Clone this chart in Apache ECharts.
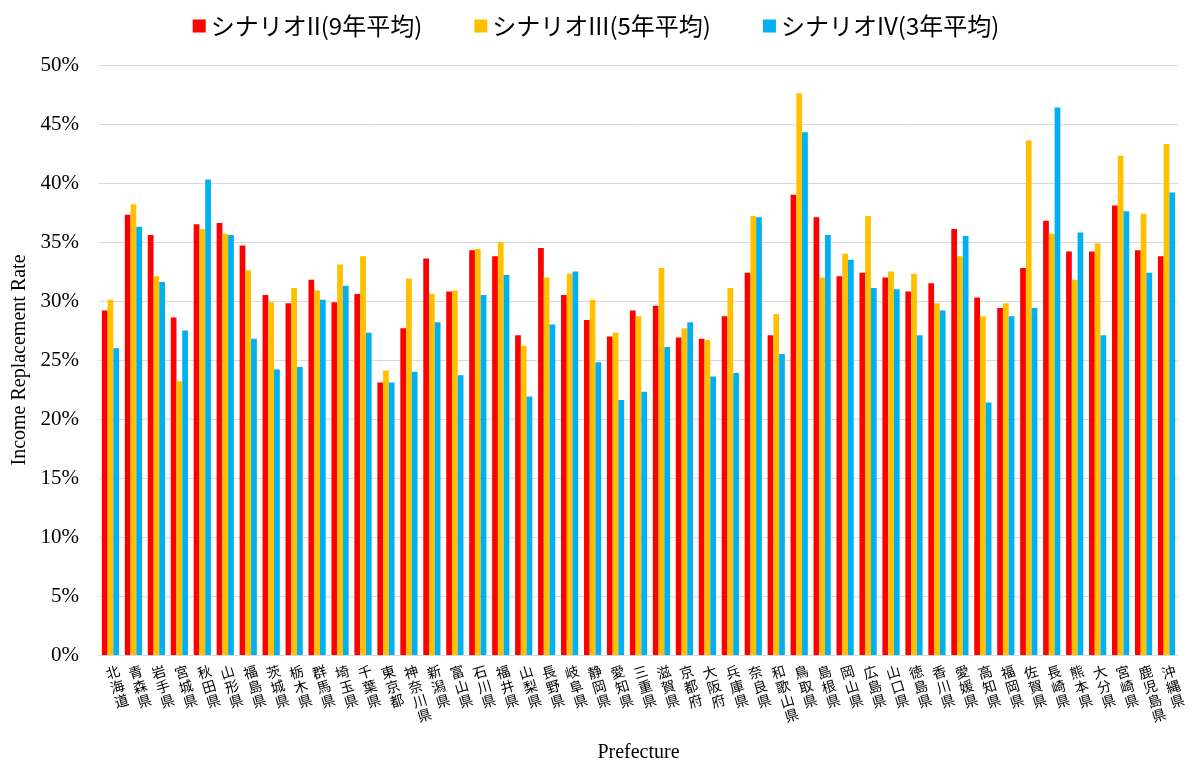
<!DOCTYPE html>
<html>
<head>
<meta charset="utf-8">
<script src="https://cdn.jsdelivr.net/npm/echarts@6/dist/echarts.min.js"></script>
<style>
  html, body { margin: 0; padding: 0; background: #fff; }
  #chart { width: 1192px; height: 763px; }
</style>
</head>
<body>
<div id="chart"></div>
<script>
var prefectures = ['北海道','青森県','岩手県','宮城県','秋田県','山形県','福島県','茨城県','栃木県','群馬県',
  '埼玉県','千葉県','東京都','神奈川県','新潟県','富山県','石川県','福井県','山梨県','長野県',
  '岐阜県','静岡県','愛知県','三重県','滋賀県','京都府','大阪府','兵庫県','奈良県','和歌山県',
  '鳥取県','島根県','岡山県','広島県','山口県','徳島県','香川県','愛媛県','高知県','福岡県',
  '佐賀県','長崎県','熊本県','大分県','宮崎県','鹿児島県','沖縄県'];

var scenario2 = [29.2,37.3,35.6,28.6,36.5,36.6,34.7,30.5,29.8,31.8,
  29.9,30.6,23.1,27.7,33.6,30.8,34.3,33.8,27.1,34.5,
  30.5,28.4,27.0,29.2,29.6,26.9,26.8,28.7,32.4,27.1,
  39.0,37.1,32.1,32.4,32.0,30.8,31.5,36.1,30.3,29.4,
  32.8,36.8,34.2,34.2,38.1,34.3,33.8];

var scenario3 = [30.1,38.2,32.1,23.2,36.1,35.7,32.6,29.9,31.1,30.9,
  33.1,33.8,24.1,31.9,30.6,30.9,34.4,35.0,26.2,32.0,
  32.3,30.1,27.3,28.7,32.8,27.7,26.7,31.1,37.2,28.9,
  47.6,32.0,34.0,37.2,32.5,32.3,29.8,33.8,28.7,29.8,
  43.6,35.7,31.8,34.9,42.3,37.4,43.3];

var scenario4 = [26.0,36.3,31.6,27.5,40.3,35.6,26.8,24.2,24.4,30.1,
  31.3,27.3,23.1,24.0,28.2,23.7,30.5,32.2,21.9,28.0,
  32.5,24.8,21.6,22.3,26.1,28.2,23.6,23.9,37.1,25.5,
  44.3,35.6,33.5,31.1,31.0,27.1,29.2,35.5,21.4,28.7,
  29.4,46.4,35.8,27.1,37.6,32.4,39.2];

var seriesNames = ['シナリオII(9年平均)', 'シナリオIII(5年平均)', 'シナリオIV(3年平均)'];
var colors = ['#FF0000', '#FFC000', '#00B0F0'];

var serif = '"Liberation Serif", "Times New Roman", serif';
var jp = '"Noto Sans CJK JP", sans-serif';

var chart = echarts.init(document.getElementById('chart'));

var option = {
  animation: false,
  color: colors,
  legend: {
    top: 9,
    left: 'center',
    icon: 'rect',
    itemWidth: 13,
    itemHeight: 13,
    itemGap: 52,
    textStyle: { fontFamily: jp, fontSize: 24, color: '#000' },
    data: seriesNames
  },
  grid: {
    left: 99,
    right: 14,
    top: 65,
    bottom: 108,
    containLabel: false,
    outerBoundsMode: 'none'
  },
  xAxis: {
    type: 'category',
    data: prefectures,
    name: 'Prefecture',
    nameLocation: 'middle',
    nameGap: 88,
    nameTextStyle: { fontFamily: serif, fontSize: 20, color: '#000' },
    axisLine: { lineStyle: { color: '#d9d9d9' } },
    axisTick: { show: false },
    axisLabel: {
      interval: 0,
      rotate: 17,
      align: 'center',
      verticalAlign: 'top',
      margin: 10,
      fontFamily: jp,
      fontSize: 14,
      lineHeight: 15,
      color: '#000',
      formatter: function (v) { return v.split('').join('\n'); }
    }
  },
  yAxis: {
    type: 'value',
    min: 0,
    max: 50,
    interval: 5,
    name: 'Income Replacement Rate',
    nameLocation: 'middle',
    nameGap: 67,
    nameTextStyle: { fontFamily: serif, fontSize: 20, color: '#000' },
    axisLine: { show: false },
    axisTick: { show: false },
    splitLine: { lineStyle: { color: '#d9d9d9' } },
    axisLabel: {
      margin: 20,
      fontFamily: serif,
      fontSize: 21,
      color: '#000',
      formatter: '{value}%'
    }
  },
  series: [
    { name: seriesNames[0], type: 'bar', data: scenario2, barGap: '0%', barCategoryGap: '25%' },
    { name: seriesNames[1], type: 'bar', data: scenario3, barGap: '0%', barCategoryGap: '25%' },
    { name: seriesNames[2], type: 'bar', data: scenario4, barGap: '0%', barCategoryGap: '25%' }
  ]
};

chart.setOption(option);
</script>
</body>
</html>
